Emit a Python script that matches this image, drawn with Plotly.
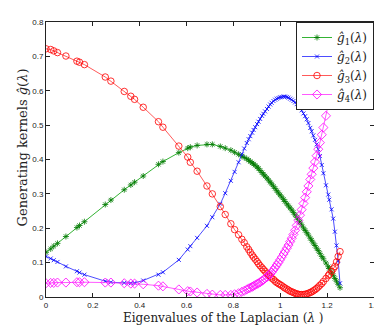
import plotly.graph_objects as go

# eigenvalues of the Laplacian (shared x for all kernels)
lam = [0.000, 0.020, 0.033, 0.049, 0.085, 0.132, 0.143, 0.164, 0.253, 0.277,
       0.334, 0.362, 0.378, 0.415, 0.480, 0.499, 0.567, 0.605, 0.616, 0.645,
       0.687, 0.710, 0.744, 0.765, 0.789, 0.805, 0.822, 0.836, 0.846,
       0.857, 0.865, 0.872, 0.880, 0.886, 0.893, 0.901, 0.907, 0.914, 0.922,
       0.928, 0.935, 0.943, 0.950, 0.957, 0.963, 0.971, 0.978, 0.985, 0.992,
       0.999, 1.006, 1.014, 1.020, 1.028, 1.035, 1.042, 1.049, 1.056, 1.063,
       1.070, 1.077, 1.084, 1.091, 1.099, 1.106, 1.113, 1.120, 1.128, 1.134,
       1.141, 1.148, 1.155, 1.162, 1.169, 1.177, 1.184, 1.195, 1.205, 1.209,
       1.219, 1.226, 1.233, 1.240, 1.247, 1.255]

g1 = [0.130, 0.140, 0.148, 0.156, 0.176, 0.202, 0.208, 0.219, 0.269, 0.282,
      0.312, 0.326, 0.334, 0.352, 0.386, 0.394, 0.420, 0.433, 0.436, 0.441,
      0.444, 0.444, 0.438, 0.433, 0.427, 0.421, 0.415, 0.410, 0.406,
      0.402, 0.398, 0.394, 0.390, 0.387, 0.383, 0.378, 0.374, 0.368, 0.362,
      0.357, 0.352, 0.346, 0.340, 0.334, 0.329, 0.322, 0.316, 0.309, 0.303,
      0.297, 0.291, 0.284, 0.278, 0.271, 0.265, 0.259, 0.253, 0.246, 0.239,
      0.232, 0.225, 0.218, 0.210, 0.201, 0.194, 0.187, 0.180, 0.171, 0.165,
      0.157, 0.150, 0.142, 0.135, 0.127, 0.118, 0.111, 0.099, 0.088, 0.083,
      0.072, 0.063, 0.054, 0.046, 0.037, 0.027]

g2 = [0.118, 0.112, 0.107, 0.102, 0.089, 0.075, 0.071, 0.065, 0.046, 0.043,
      0.041, 0.040, 0.041, 0.048, 0.065, 0.072, 0.108, 0.138, 0.148, 0.172,
      0.207, 0.232, 0.271, 0.302, 0.338, 0.364, 0.392, 0.415, 0.432,
      0.448, 0.459, 0.468, 0.478, 0.486, 0.494, 0.503, 0.510, 0.518, 0.527,
      0.533, 0.540, 0.547, 0.554, 0.560, 0.565, 0.570, 0.574, 0.577, 0.579,
      0.581, 0.582, 0.583, 0.583, 0.582, 0.580, 0.577, 0.574, 0.570, 0.566,
      0.561, 0.556, 0.550, 0.543, 0.534, 0.526, 0.517, 0.506, 0.492, 0.482,
      0.470, 0.457, 0.444, 0.430, 0.410, 0.384, 0.360, 0.325, 0.298, 0.283,
      0.255, 0.228, 0.190, 0.150, 0.105, 0.040]

g3 = [0.722, 0.720, 0.716, 0.711, 0.701, 0.686, 0.683, 0.676, 0.640, 0.628,
      0.598, 0.584, 0.575, 0.552, 0.510, 0.494, 0.439, 0.407, 0.392, 0.366,
      0.323, 0.300, 0.263, 0.240, 0.213, 0.196, 0.181, 0.168, 0.158,
      0.146, 0.138, 0.130, 0.122, 0.116, 0.110, 0.103, 0.097, 0.091, 0.085,
      0.080, 0.075, 0.069, 0.064, 0.060, 0.055, 0.051, 0.046, 0.042, 0.039,
      0.036, 0.033, 0.029, 0.026, 0.023, 0.020, 0.017, 0.015, 0.013, 0.011,
      0.009, 0.008, 0.007, 0.007, 0.007, 0.008, 0.009, 0.011, 0.013, 0.015,
      0.018, 0.021, 0.025, 0.029, 0.034, 0.039, 0.045, 0.054, 0.062, 0.066,
      0.074, 0.082, 0.089, 0.102, 0.118, 0.132]

g4 = [0.040, 0.041, 0.041, 0.042, 0.042, 0.043, 0.043, 0.043, 0.042, 0.042,
      0.040, 0.039, 0.039, 0.037, 0.033, 0.031, 0.022, 0.017, 0.016, 0.013,
      0.009, 0.007, 0.006, 0.006, 0.006, 0.008, 0.011, 0.015, 0.018,
      0.022, 0.025, 0.027, 0.030, 0.032, 0.035, 0.038, 0.040, 0.043, 0.047,
      0.050, 0.054, 0.058, 0.062, 0.067, 0.072, 0.079, 0.086, 0.093, 0.100,
      0.108, 0.116, 0.125, 0.133, 0.142, 0.151, 0.161, 0.171, 0.182, 0.194,
      0.208, 0.223, 0.238, 0.254, 0.272, 0.289, 0.306, 0.323, 0.342, 0.357,
      0.375, 0.393, 0.411, 0.430, 0.449, 0.472, 0.493, 0.527, 0.560, 0.574,
      0.610, 0.637, 0.665, 0.695, 0.727, 0.765]

series = [
    ("<i>ĝ</i><sub>1</sub>(<i>λ</i>)", g1, "#00a000", "#007a00", "asterisk-open", 5),
    ("<i>ĝ</i><sub>2</sub>(<i>λ</i>)", g2, "#2020ff", "#0000ff", "x-thin-open", 4),
    ("<i>ĝ</i><sub>3</sub>(<i>λ</i>)", g3, "#ff3030", "#ff0000", "circle-open", 6.5),
    ("<i>ĝ</i><sub>4</sub>(<i>λ</i>)", g4, "#ff30ff", "#ff00ff", "diamond-open", 7),
]

fig = go.Figure()
for name, vals, lc, mc, sym, sz in series:
    fig.add_trace(go.Scatter(
        x=lam, y=vals, name=name, mode="lines+markers",
        line=dict(color=lc, width=0.8),
        marker=dict(symbol=sym, size=sz, color=mc, line=dict(color=mc, width=0.8)),
    ))

axis = dict(showgrid=False, zeroline=False, showline=True, linecolor="#222",
            linewidth=1, mirror="ticks", ticks="inside", ticklen=4,
            tickcolor="#222", tickfont=dict(family="Liberation Sans", size=8, color="#222"))

fig.update_xaxes(range=[0, 1.4], dtick=0.2, **axis)
fig.update_yaxes(range=[0, 0.8], dtick=0.1, **axis)

fig.add_annotation(text="Eigenvalues of the Laplacian (<i>λ</i> )", x=0.54, y=-0.078,
                   xref="paper", yref="paper", xanchor="center", yanchor="middle",
                   showarrow=False, font=dict(family="DejaVu Serif", size=12, color="#222"))
fig.add_annotation(text="Generating kernels <i>ĝ</i>(<i>λ</i>)", x=-0.071, y=0.543,
                   xref="paper", yref="paper", xanchor="center", yanchor="middle",
                   textangle=-90, showarrow=False,
                   font=dict(family="DejaVu Serif", size=13, color="#222"))

fig.update_layout(
    width=382, height=325,
    margin=dict(l=38, r=14, t=10, b=36),
    plot_bgcolor="white", paper_bgcolor="white",
    showlegend=True,
    legend=dict(x=1, y=1, xanchor="right", yanchor="top",
                bordercolor="#222", borderwidth=1, bgcolor="white",
                font=dict(family="DejaVu Serif", size=12, color="#222"),
                tracegroupgap=0, itemwidth=30),
)

fig.write_html("out.html")
